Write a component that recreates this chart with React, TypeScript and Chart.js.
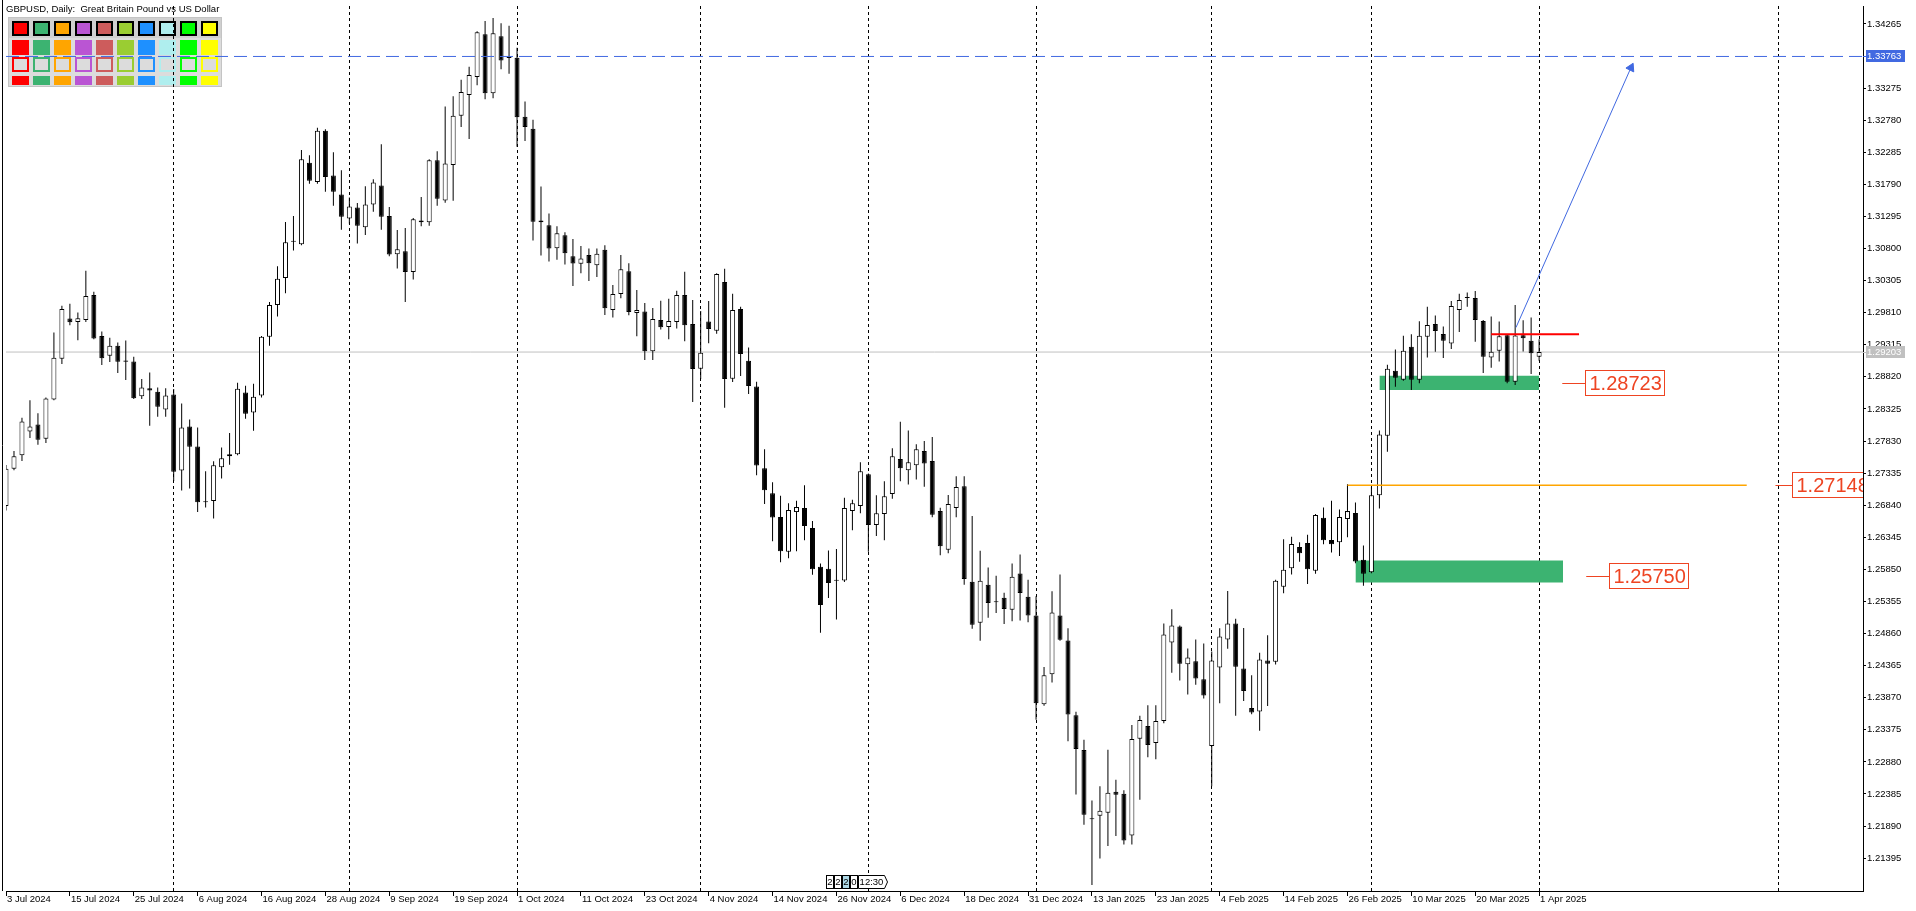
import React, { useEffect, useRef } from 'react';
import { Chart, registerables } from 'chart.js';

Chart.register(...registerables);

const FONT = "'Liberation Sans', Arial, sans-serif";

// ---- axis labels ----
const tickLabels = [
  '3 Jul 2024', '15 Jul 2024', '25 Jul 2024', '6 Aug 2024', '16 Aug 2024', '28 Aug 2024',
  '9 Sep 2024', '19 Sep 2024', '1 Oct 2024', '11 Oct 2024', '23 Oct 2024', '4 Nov 2024',
  '14 Nov 2024', '26 Nov 2024', '6 Dec 2024', '18 Dec 2024', '31 Dec 2024', '13 Jan 2025',
  '23 Jan 2025', '4 Feb 2025', '14 Feb 2025', '26 Feb 2025', '10 Mar 2025', '20 Mar 2025', '1 Apr 2025',
];
const labelStep = 8; // bars between two date labels
const monthStartBars = [21, 43, 64, 87, 108, 129, 151, 171, 192, 222];
const priceTicks = [
  '1.34265', '1.33275', '1.32780', '1.32285', '1.31790', '1.31295', '1.30800', '1.30305', '1.29810',
  '1.29315', '1.28820', '1.28325', '1.27830', '1.27335', '1.26840', '1.26345', '1.25850', '1.25355',
  '1.24860', '1.24365', '1.23870', '1.23375', '1.22880', '1.22385', '1.21890', '1.21395',
];

// ---- daily OHLC, GBPUSD, 3 Jul 2024 .. 1 Apr 2025 ----
const opens = [
  1.26826, 1.27404, 1.27609, 1.27978, 1.28085, 1.27865, 1.28470, 1.29099, 1.29719, 1.29668,
  1.29698, 1.30082, 1.29452, 1.29145, 1.29299, 1.29074, 1.29058, 1.28521, 1.28644, 1.28592,
  1.28316, 1.28546, 1.27374, 1.28055, 1.27747, 1.26887, 1.26903, 1.27425, 1.27594, 1.27625,
  1.28577, 1.28270, 1.28531, 1.29440, 1.29930, 1.30344, 1.30905, 1.30866, 1.32125, 1.31828,
  1.32617, 1.31926, 1.31634, 1.31265, 1.31434, 1.31127, 1.31480, 1.31772, 1.31301, 1.30712,
  1.30758, 1.30436, 1.31204, 1.31204, 1.32161, 1.31542, 1.32089, 1.32847, 1.33170, 1.33446,
  1.34107, 1.33195, 1.34076, 1.33748, 1.33743, 1.32832, 1.32648, 1.31234, 1.31158, 1.30804,
  1.31004, 1.30681, 1.30564, 1.30700, 1.30543, 1.30780, 1.29852, 1.30098, 1.30451, 1.29806,
  1.29827, 1.29217, 1.29699, 1.29591, 1.29668, 1.30083, 1.29637, 1.28946, 1.29673, 1.29530,
  1.30282, 1.28792, 1.29868, 1.29069, 1.28670, 1.27410, 1.27026, 1.26657, 1.26120, 1.26734,
  1.26796, 1.26489, 1.25889, 1.25859, 1.25682, 1.25679, 1.26749, 1.26826, 1.27318, 1.26534,
  1.26703, 1.27011, 1.27553, 1.27380, 1.27457, 1.27677, 1.27523, 1.26750, 1.26151, 1.26796,
  1.27134, 1.25660, 1.25025, 1.25613, 1.25350, 1.25414, 1.25229, 1.25788, 1.25429, 1.25137,
  1.23770, 1.24231, 1.25137, 1.24753, 1.23601, 1.23064, 1.22002, 1.22050, 1.22096, 1.22419,
  1.22388, 1.21743, 1.23238, 1.23432, 1.23171, 1.23509, 1.24723, 1.24968, 1.24385, 1.24431,
  1.24154, 1.23125, 1.24338, 1.24768, 1.25014, 1.24322, 1.23713, 1.23657, 1.24445, 1.24425,
  1.25582, 1.25869, 1.26196, 1.26258, 1.25828, 1.26647, 1.26304, 1.26268, 1.26627, 1.26719,
  1.25997, 1.25807, 1.26995, 1.27912, 1.28915, 1.28777, 1.29284, 1.28777, 1.29437, 1.29637,
  1.29483, 1.29335, 1.29852, 1.30036, 1.30036, 1.29683, 1.29120, 1.29222, 1.29463, 1.28746,
  1.29463, 1.29376, 1.29130,
];
const highs = [
  1.27460, 1.27676, 1.28188, 1.28459, 1.28259, 1.28500, 1.29504, 1.29918, 1.29949, 1.29811,
  1.30456, 1.30133, 1.29519, 1.29422, 1.29350, 1.29381, 1.29130, 1.28787, 1.28889, 1.28654,
  1.28644, 1.28633, 1.28408, 1.28162, 1.28039, 1.27363, 1.27517, 1.27732, 1.27952, 1.28731,
  1.28684, 1.28715, 1.29450, 1.29975, 1.30528, 1.31209, 1.31301, 1.32320, 1.32238, 1.32663,
  1.32640, 1.32284, 1.32008, 1.31588, 1.31501, 1.31762, 1.31869, 1.32407, 1.31439, 1.31086,
  1.31117, 1.31270, 1.31593, 1.32177, 1.32299, 1.32991, 1.33149, 1.33405, 1.33605, 1.34153,
  1.34311, 1.34358, 1.34276, 1.34235, 1.33897, 1.33067, 1.32786, 1.31757, 1.31342, 1.31142,
  1.31050, 1.30948, 1.30840, 1.30800, 1.30800, 1.30850, 1.30236, 1.30700, 1.30574, 1.30159,
  1.29960, 1.29883, 1.29996, 1.30026, 1.30149, 1.30441, 1.30006, 1.29837, 1.29990, 1.30420,
  1.30487, 1.30103, 1.29903, 1.29274, 1.28746, 1.27702, 1.27195, 1.26985, 1.26872, 1.26908,
  1.27149, 1.26596, 1.25940, 1.26140, 1.26166, 1.26954, 1.26924, 1.27502, 1.27330, 1.26995,
  1.27210, 1.27717, 1.28127, 1.27994, 1.27779, 1.27830, 1.27892, 1.26801, 1.26996, 1.27288,
  1.27288, 1.26673, 1.26136, 1.25880, 1.25752, 1.25491, 1.25941, 1.26079, 1.25690, 1.25434,
  1.24344, 1.25511, 1.25772, 1.24943, 1.23652, 1.23222, 1.22285, 1.22506, 1.23069, 1.22603,
  1.22444, 1.23448, 1.23591, 1.23755, 1.23755, 1.25014, 1.25235, 1.24984, 1.24630, 1.24769,
  1.24707, 1.24584, 1.24940, 1.25515, 1.25090, 1.24947, 1.24215, 1.24563, 1.24834, 1.25690,
  1.26314, 1.26355, 1.26268, 1.26386, 1.26703, 1.26806, 1.26908, 1.26775, 1.27164, 1.26882,
  1.26217, 1.27123, 1.27993, 1.29007, 1.29243, 1.29453, 1.29478, 1.29678, 1.29903, 1.29765,
  1.29596, 1.29990, 1.30103, 1.30123, 1.30144, 1.29698, 1.29750, 1.29673, 1.29470, 1.29929,
  1.29693, 1.29734, 1.29401,
];
const lows = [
  1.26760, 1.27380, 1.27522, 1.27875, 1.27773, 1.27799, 1.28460, 1.29017, 1.29616, 1.29386,
  1.29668, 1.29401, 1.29002, 1.29048, 1.28879, 1.28772, 1.28480, 1.28480, 1.28065, 1.28203,
  1.28203, 1.27215, 1.27066, 1.27097, 1.26734, 1.26805, 1.26636, 1.27251, 1.27466, 1.27609,
  1.28172, 1.27988, 1.28500, 1.29300, 1.29750, 1.30108, 1.30769, 1.30850, 1.31798, 1.31798,
  1.31675, 1.31460, 1.31091, 1.31183, 1.30876, 1.31009, 1.31368, 1.31091, 1.30681, 1.30492,
  1.29976, 1.30323, 1.31142, 1.31153, 1.31460, 1.31506, 1.31537, 1.32673, 1.32489, 1.33318,
  1.33103, 1.33119, 1.33564, 1.33497, 1.32371, 1.32458, 1.30922, 1.30692, 1.30600, 1.30625,
  1.30554, 1.30221, 1.30420, 1.30298, 1.30359, 1.29776, 1.29734, 1.30031, 1.29770, 1.29448,
  1.29079, 1.29079, 1.29550, 1.29402, 1.29565, 1.29371, 1.28434, 1.28787, 1.29340, 1.29484,
  1.28342, 1.28741, 1.28833, 1.28557, 1.27302, 1.26857, 1.26284, 1.25961, 1.26022, 1.26130,
  1.26299, 1.25766, 1.24871, 1.25408, 1.25075, 1.25654, 1.26453, 1.26714, 1.26120, 1.26366,
  1.26299, 1.26939, 1.27210, 1.27160, 1.27236, 1.27124, 1.26653, 1.26069, 1.26100, 1.26653,
  1.25613, 1.24933, 1.24748, 1.25102, 1.25178, 1.25009, 1.25050, 1.25060, 1.25035, 1.23530,
  1.23745, 1.24103, 1.24748, 1.23197, 1.22378, 1.21912, 1.20980, 1.21389, 1.21584, 1.21738,
  1.21604, 1.21604, 1.22296, 1.22951, 1.22920, 1.23478, 1.24257, 1.24134, 1.23919, 1.24072,
  1.23857, 1.22506, 1.23783, 1.24624, 1.23590, 1.23821, 1.23616, 1.23360, 1.23744, 1.24384,
  1.25480, 1.25771, 1.25966, 1.25623, 1.25782, 1.26237, 1.26109, 1.26058, 1.26345, 1.25945,
  1.25597, 1.25792, 1.26790, 1.27666, 1.28669, 1.28761, 1.28618, 1.28720, 1.29120, 1.29207,
  1.29110, 1.29248, 1.29514, 1.29900, 1.29360, 1.28879, 1.28961, 1.29058, 1.28720, 1.28695,
  1.29212, 1.28864, 1.29069,
];
const closes = [
  1.27404, 1.27594, 1.28131, 1.28055, 1.27850, 1.28485, 1.29115, 1.29867, 1.29662, 1.29724,
  1.30067, 1.29411, 1.29109, 1.29299, 1.29053, 1.29053, 1.28490, 1.28654, 1.28608, 1.28357,
  1.28531, 1.27358, 1.28039, 1.27742, 1.26887, 1.26892, 1.27456, 1.27563, 1.27625, 1.28638,
  1.28249, 1.28515, 1.29437, 1.29930, 1.30333, 1.30897, 1.30915, 1.32177, 1.31844, 1.32617,
  1.31905, 1.31675, 1.31291, 1.31449, 1.31153, 1.31480, 1.31818, 1.31291, 1.30707, 1.30789,
  1.30436, 1.31250, 1.31234, 1.32161, 1.31567, 1.32110, 1.32847, 1.33216, 1.33477, 1.34137,
  1.33195, 1.34122, 1.33702, 1.33738, 1.32827, 1.32673, 1.31214, 1.31204, 1.30799, 1.31035,
  1.30728, 1.30569, 1.30646, 1.30574, 1.30720, 1.29878, 1.30098, 1.30482, 1.29821, 1.29852,
  1.29217, 1.29714, 1.29586, 1.29683, 1.30083, 1.29617, 1.28941, 1.29192, 1.29560, 1.30405,
  1.28787, 1.29852, 1.29171, 1.28680, 1.27451, 1.27072, 1.26652, 1.26130, 1.26765, 1.26811,
  1.26519, 1.25853, 1.25300, 1.25638, 1.25676, 1.26796, 1.26872, 1.27364, 1.26534, 1.26714,
  1.26980, 1.27594, 1.27410, 1.27503, 1.27702, 1.27482, 1.26694, 1.26207, 1.26858, 1.27119,
  1.25701, 1.24994, 1.25675, 1.25332, 1.25344, 1.25240, 1.25736, 1.25485, 1.25137, 1.23786,
  1.24216, 1.25183, 1.24763, 1.23611, 1.23079, 1.22065, 1.21996, 1.22127, 1.22403, 1.22373,
  1.21666, 1.23233, 1.23525, 1.23141, 1.23509, 1.24845, 1.24984, 1.24395, 1.24492, 1.24165,
  1.23903, 1.24446, 1.24815, 1.25014, 1.24348, 1.23974, 1.23641, 1.24461, 1.24394, 1.25674,
  1.25843, 1.26242, 1.26099, 1.25853, 1.26688, 1.26299, 1.26237, 1.26657, 1.26749, 1.25971,
  1.25781, 1.26995, 1.27932, 1.28946, 1.28808, 1.29222, 1.28777, 1.29453, 1.29622, 1.29529,
  1.29376, 1.29913, 1.30006, 1.30040, 1.29698, 1.29130, 1.29207, 1.29448, 1.28746, 1.29458,
  1.29417, 1.29186, 1.29203,
];

// ---- levels and drawn objects (bar index, price) ----
const bidPrice = 1.29203;
const targetPrice = 1.33763;
const resistanceLine = [{ x: 186.0, y: 1.29478 }, { x: 197.0, y: 1.29478 }];
const orangeLine = [{ x: 168.0, y: 1.27148 }, { x: 218.0, y: 1.27148 }];
const upperZone = { from: 172, to: 192, top: 1.28838, bottom: 1.28618 };
const lowerZone = { from: 169, to: 195, top: 1.25986, bottom: 1.25648 };
const arrowLine = [{ x: 189.1, y: 1.29581 }, { x: 203.5, y: 1.33589 }];
const levelTags = [
  { text: '1.28723', price: 1.28723, leaderFrom: 194.9, boxAt: 197.7 },
  { text: '1.27148', price: 1.27148, leaderFrom: 221.6, boxAt: 223.7 },
  { text: '1.25750', price: 1.2575, leaderFrom: 197.9, boxAt: 200.7 },
];
const paletteColors = ['#FF0000', '#3CB371', '#FFA500', '#BA55D3', '#CD5C5C', '#9ACD32', '#1E90FF', '#AFEEEE', '#00FF00', '#FFFF00'];

const X_MIN = 0;
const X_MAX = 232.5625;
const Y_MIN = 1.208882;
const Y_MAX = 1.345414;

const TAG_COLOR = '#EE4422';
const ZONE_COLOR = '#3CB371';
const BLUE = '#4169E1';

export default function App() {
  const ref = useRef<HTMLCanvasElement>(null);

  useEffect(() => {
    const canvas = ref.current as HTMLCanvasElement;
    const bodies = closes.map((c, i) => ({ x: i, y: [opens[i], c] }));
    const wicks = closes.map((_, i) => ({ x: i, y: [lows[i], highs[i]] }));
    const bodyColors = closes.map((c, i) => (c >= opens[i] ? '#ffffff' : '#000000'));

    const flat = (y: number) => [{ x: X_MIN, y }, { x: X_MAX, y }];
    const zoneEdge = (z: any, y: number) => [{ x: z.from, y }, { x: z.to, y }];

    const decor = {
      id: 'decor',
      beforeDraw(chart: any) {
        const { ctx, width, height } = chart;
        ctx.save();
        ctx.fillStyle = '#ffffff';
        ctx.fillRect(0, 0, width, height);
        ctx.fillStyle = '#000';
        ctx.font = `9.5px ${FONT}`;
        ctx.textBaseline = 'middle';
        ctx.textAlign = 'left';
        ctx.fillText('GBPUSD, Daily:  Great Britain Pound vs US Dollar', 6, 9.5);
        // colour palette panel
        ctx.fillStyle = '#DCDCDC';
        ctx.fillRect(8, 17, 214, 70);
        ctx.strokeStyle = '#C4C4C4';
        ctx.lineWidth = 1;
        ctx.strokeRect(8.5, 17.5, 213, 69);
        ctx.fillStyle = '#D0D0D0';
        ctx.fillRect(9, 18, 212, 20);
        paletteColors.forEach((c, k) => {
          const x = 12 + 21 * k;
          ctx.fillStyle = '#000';
          ctx.fillRect(x, 21, 17, 15);
          ctx.fillStyle = c;
          ctx.fillRect(x + 2, 23, 13, 11);
          ctx.fillRect(x, 40, 17, 15);
          ctx.fillRect(x, 57, 17, 15);
          ctx.fillStyle = '#DCDCDC';
          ctx.fillRect(x + 2, 59, 13, 11);
          ctx.fillStyle = c;
          ctx.fillRect(x, 76, 17, 9);
        });
        ctx.restore();
      },
      afterDatasetsDraw(chart: any) {
        const { ctx, chartArea } = chart;
        const xs = chart.scales.x;
        const ys = chart.scales.y;
        ctx.save();
        ctx.beginPath();
        ctx.rect(chartArea.left, chartArea.top, chartArea.right - chartArea.left, chartArea.bottom - chartArea.top);
        ctx.clip();
        ctx.font = `20px ${FONT}`;
        ctx.textBaseline = 'middle';
        ctx.textAlign = 'left';
        ctx.lineWidth = 1;
        for (const t of levelTags) {
          const yc = Math.round(ys.getPixelForValue(t.price));
          const py = yc + 0.5;
          const x0 = xs.getPixelForValue(t.leaderFrom);
          const x1 = Math.round(xs.getPixelForValue(t.boxAt)) + 0.5;
          ctx.strokeStyle = TAG_COLOR;
          ctx.beginPath();
          ctx.moveTo(x0, py);
          ctx.lineTo(x1, py);
          ctx.stroke();
          const w = Math.round(ctx.measureText(t.text).width) + 7;
          const top = yc - 12.5;
          ctx.fillStyle = '#ffffff';
          ctx.fillRect(x1, top, w, 25);
          ctx.strokeRect(x1, top, w, 25);
          ctx.fillStyle = TAG_COLOR;
          ctx.fillText(t.text, x1 + 4, yc + 1);
        }
        ctx.restore();
      },
      afterDraw(chart: any) {
        const { ctx, chartArea } = chart;
        const ys = chart.scales.y;
        ctx.save();
        // left frame
        ctx.strokeStyle = '#000';
        ctx.lineWidth = 1;
        ctx.beginPath();
        ctx.moveTo(2.5, 0);
        ctx.lineTo(2.5, chartArea.bottom);
        ctx.stroke();
        // price tags on the axis
        const axisTag = (price: number, bg: string) => {
          const py = Math.round(ys.getPixelForValue(price));
          ctx.fillStyle = bg;
          ctx.fillRect(chartArea.right, py, 3, 1);
          ctx.fillRect(chartArea.right + 3, py - 6, 39, 12);
          ctx.fillStyle = '#ffffff';
          ctx.font = `9.5px ${FONT}`;
          ctx.textBaseline = 'middle';
          ctx.textAlign = 'left';
          ctx.fillText(price.toFixed(5), chartArea.right + 4, py + 0.5);
        };
        axisTag(targetPrice, BLUE);
        axisTag(bidPrice, '#C0C0C0');
        // small scroll widget above the time axis
        const wb = chartArea.bottom - 2;
        const boxes = [
          { x: 826, w: 7, t: '2', bg: '#ffffff' },
          { x: 834, w: 7, t: '2', bg: '#ffffff' },
          { x: 842, w: 7, t: '2', bg: '#ADD8E6' },
          { x: 850, w: 7, t: '0', bg: '#ffffff' },
        ];
        ctx.font = `9.5px ${FONT}`;
        ctx.textAlign = 'center';
        for (const b of boxes) {
          ctx.fillStyle = b.bg;
          ctx.fillRect(b.x, wb - 14, b.w, 14);
          ctx.strokeStyle = '#000';
          ctx.strokeRect(b.x + 0.5, wb - 13.5, b.w, 13);
          ctx.fillStyle = '#000';
          ctx.fillText(b.t, b.x + b.w / 2 + 0.5, wb - 6.5);
        }
        ctx.fillStyle = '#ffffff';
        ctx.beginPath();
        ctx.moveTo(858.5, wb - 13.5);
        ctx.lineTo(884.5, wb - 13.5);
        ctx.lineTo(887.5, wb - 7);
        ctx.lineTo(884.5, wb - 0.5);
        ctx.lineTo(858.5, wb - 0.5);
        ctx.closePath();
        ctx.fill();
        ctx.stroke();
        ctx.fillStyle = '#000';
        ctx.fillText('12:30', 871.5, wb - 6.5);
        ctx.restore();
      },
    };

    const lineDs = (data: any, color: string, width: number, order: number, extra: any = {}) => ({
      type: 'line',
      data,
      borderColor: color,
      borderWidth: width,
      pointRadius: 0,
      fill: false,
      tension: 0,
      order,
      ...extra,
    });

    const chart = new Chart(canvas, {
      type: 'bar',
      data: {
        datasets: [
          {
            type: 'bar',
            data: bodies,
            backgroundColor: bodyColors,
            borderColor: '#000',
            borderWidth: 1,
            borderSkipped: false,
            barThickness: 5,
            grouped: false,
            minBarLength: 1,
            inflateAmount: 0,
            order: 2,
          },
          {
            type: 'bar',
            data: wicks,
            backgroundColor: '#000',
            borderWidth: 0,
            barThickness: 1,
            grouped: false,
            inflateAmount: 0,
            order: 3,
          },
          lineDs(zoneEdge(upperZone, upperZone.top), 'rgba(0,0,0,0)', 0, 4, { fill: '+1', backgroundColor: ZONE_COLOR }),
          lineDs(zoneEdge(upperZone, upperZone.bottom), 'rgba(0,0,0,0)', 0, 4),
          lineDs(zoneEdge(lowerZone, lowerZone.top), 'rgba(0,0,0,0)', 0, 4, { fill: '+1', backgroundColor: ZONE_COLOR }),
          lineDs(zoneEdge(lowerZone, lowerZone.bottom), 'rgba(0,0,0,0)', 0, 4),
          lineDs(flat(bidPrice), '#C0C0C0', 1, 5),
          lineDs(orangeLine, '#FFA500', 1.6, 0),
          lineDs(resistanceLine, '#FF0000', 2, 0),
          lineDs(flat(targetPrice), BLUE, 1, 0, { borderDash: [13, 6] }),
          lineDs(arrowLine, BLUE, 1, 0, {
            pointRadius: [0, 5],
            pointStyle: 'triangle',
            pointRotation: [0, 26],
            pointBackgroundColor: BLUE,
            pointBorderColor: BLUE,
            pointBorderWidth: 1,
          }),
        ] as any,
      },
      options: {
        responsive: false,
        maintainAspectRatio: false,
        devicePixelRatio: 1,
        animation: false,
        events: [],
        layout: { padding: { left: 2.5, top: 2, right: 0, bottom: 0 } },
        plugins: { legend: { display: false }, tooltip: { enabled: false } },
        scales: {
          x: {
            type: 'linear',
            min: X_MIN,
            max: X_MAX,
            offset: false,
            grid: {
              display: true,
              offset: false,
              drawOnChartArea: true,
              drawTicks: true,
              tickLength: 5,
              lineWidth: 1,
              color: (ctx: any) => (ctx.tick && monthStartBars.includes(ctx.tick.value) ? '#000' : 'rgba(0,0,0,0)'),
              tickColor: (ctx: any) =>
                ctx.tick && ctx.tick.value % labelStep === 0 && ctx.tick.value / labelStep < tickLabels.length
                  ? '#000'
                  : 'rgba(0,0,0,0)',
            },
            border: { display: true, color: '#000', width: 1, dash: [3, 3] },
            ticks: {
              autoSkip: false,
              maxRotation: 0,
              minRotation: 0,
              align: 'start',
              labelOffset: 1,
              padding: -2,
              color: '#000',
              font: { family: FONT, size: 9.5 },
              callback: (value: any) => {
                const v = Number(value);
                return v % labelStep === 0 && v / labelStep < tickLabels.length ? tickLabels[v / labelStep] : '';
              },
            },
            afterBuildTicks: (scale: any) => {
              const vals = new Set<number>();
              tickLabels.forEach((_, k) => vals.add(k * labelStep));
              monthStartBars.forEach((v) => vals.add(v));
              scale.ticks = Array.from(vals)
                .sort((a, b) => a - b)
                .map((value) => ({ value }));
            },
            afterFit: (scale: any) => {
              scale.height = 20;
              scale.paddingLeft = 0;
              scale.paddingRight = 0;
              scale.paddingTop = 0;
              scale.paddingBottom = 0;
            },
          },
          y: {
            type: 'linear',
            position: 'right',
            min: Y_MIN,
            max: Y_MAX,
            grid: { drawOnChartArea: false, drawTicks: true, tickLength: 3, tickColor: '#000', offset: false },
            border: { display: true, color: '#000', width: 1 },
            ticks: {
              autoSkip: false,
              padding: 1,
              color: '#000',
              font: { family: FONT, size: 9.5 },
              callback: (value: any) => Number(value).toFixed(5),
            },
            afterBuildTicks: (scale: any) => {
              scale.ticks = priceTicks.map((v) => ({ value: parseFloat(v) }));
            },
            afterFit: (scale: any) => {
              scale.width = 53;
              scale.paddingLeft = 0;
              scale.paddingRight = 0;
              scale.paddingTop = 0;
              scale.paddingBottom = 0;
            },
          },
        },
      } as any,
      plugins: [decor as any],
    });

    return () => chart.destroy();
  }, []);

  return (
    <div style={{ position: 'fixed', left: 0, top: 0, width: 1916, height: 911, background: '#fff' }}>
      <canvas ref={ref} width={1916} height={911} style={{ display: 'block' }} />
    </div>
  );
}
